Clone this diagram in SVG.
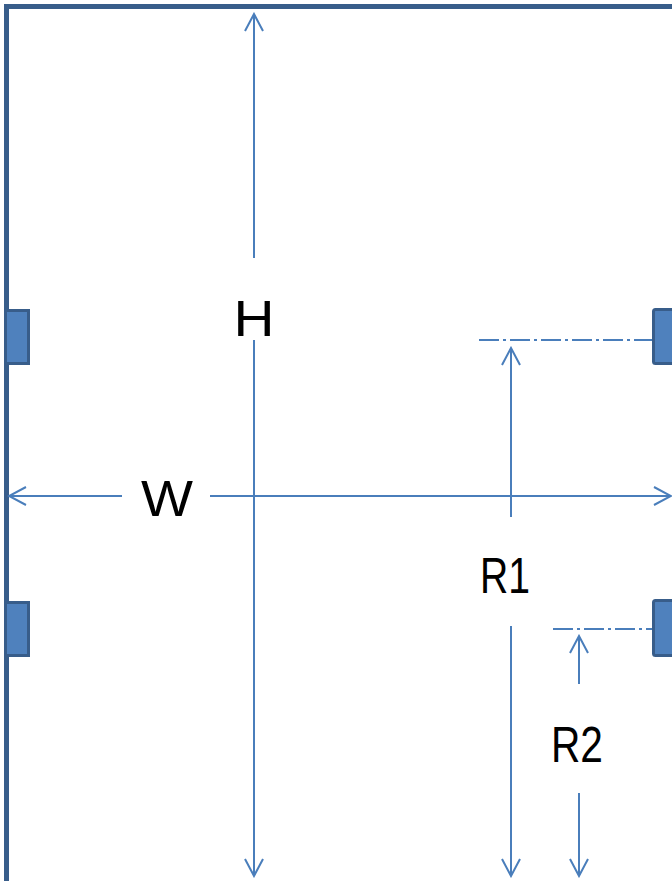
<svg xmlns="http://www.w3.org/2000/svg" width="672" height="881" viewBox="0 0 672 881">
<style>
.wall{fill:none;stroke:#385D8A;stroke-width:5}
.blk{fill:#4F81BD;stroke:#385D8A;stroke-width:3}
.dim{fill:none;stroke:#4A7EBB;stroke-width:2}
.dd{fill:none;stroke:#4A7EBB;stroke-width:2;stroke-dasharray:20 4 3 4}
.lbl{font-family:"Liberation Sans",Arial,sans-serif;font-size:50px;fill:#000;text-anchor:middle}
</style>
<defs>
<marker id="ah" markerUnits="userSpaceOnUse" viewBox="-20 -12 22 24" refX="0" refY="0" markerWidth="22" markerHeight="24" orient="auto-start-reverse">
<path d="M-17,-9 L0,0 L-17,9" fill="none" stroke="#4A7EBB" stroke-width="2"/>
</marker>
</defs>
<rect width="672" height="881" fill="#fff"/>
<g id="walls">
<path class="wall" d="M6.5,881 V6.5 H672"/>
</g>
<g id="block-left-1"><rect class="blk" x="5.5" y="310.5" width="23" height="53"/></g>
<g id="block-left-2"><rect class="blk" x="5.5" y="602.5" width="23" height="53"/></g>
<g id="block-right-1"><rect class="blk" x="653.5" y="309.5" width="30" height="54" rx="2"/></g>
<g id="block-right-2"><rect class="blk" x="653.5" y="600.5" width="30" height="55" rx="2"/></g>
<g id="connectors">
<line class="dd" x1="479" y1="340" x2="652" y2="340"/>
<line class="dd" x1="553" y1="629" x2="652" y2="629"/>
<line class="dim" x1="254" y1="258" x2="254" y2="14" marker-end="url(#ah)"/>
<line class="dim" x1="254" y1="340" x2="254" y2="876" marker-end="url(#ah)"/>
<line class="dim" x1="122" y1="496" x2="9" y2="496" marker-end="url(#ah)"/>
<line class="dim" x1="210" y1="496" x2="671" y2="496" marker-end="url(#ah)"/>
<line class="dim" x1="511" y1="517" x2="511" y2="348" marker-end="url(#ah)"/>
<line class="dim" x1="511" y1="626" x2="511" y2="876" marker-end="url(#ah)"/>
<line class="dim" x1="579" y1="684" x2="579" y2="636" marker-end="url(#ah)"/>
<line class="dim" x1="579" y1="793" x2="579" y2="876" marker-end="url(#ah)"/>
</g>
<g id="labels">
<text class="lbl" x="254" y="336" textLength="41" lengthAdjust="spacingAndGlyphs">H</text>
<text class="lbl" x="167" y="516" textLength="52" lengthAdjust="spacingAndGlyphs">W</text>
<text class="lbl" x="505" y="593" textLength="50" lengthAdjust="spacingAndGlyphs">R1</text>
<text class="lbl" x="577" y="762" textLength="52" lengthAdjust="spacingAndGlyphs">R2</text>
</g>
</svg>
